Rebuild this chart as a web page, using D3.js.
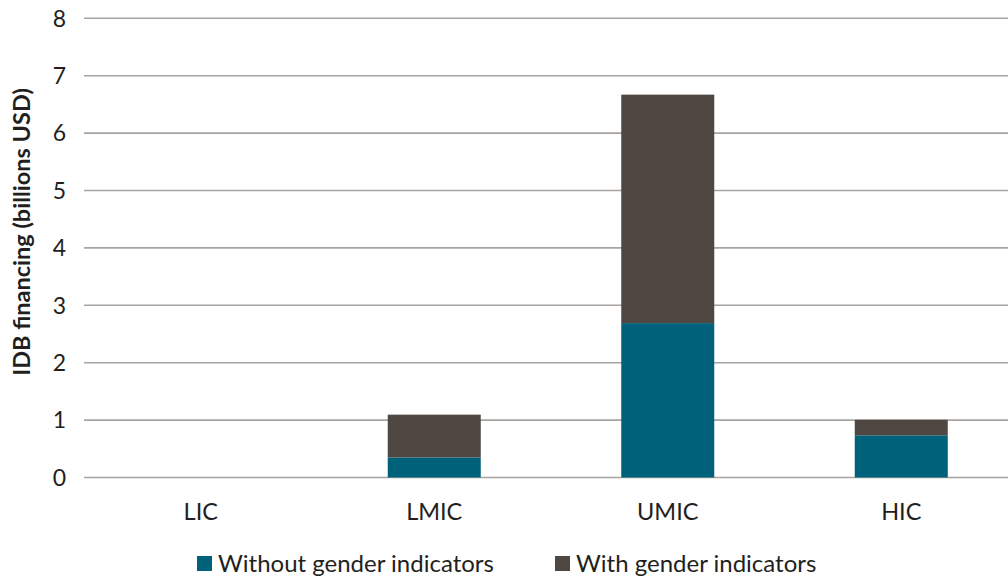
<!DOCTYPE html>
<html><head><meta charset="utf-8">
<script src="https://cdn.jsdelivr.net/npm/d3@7"></script>
<style>body{margin:0;background:#fff;} svg{display:block;font-family:Lato,"Open Sans",sans-serif;}</style>
</head><body>
<svg id="chart" width="1008" height="578"></svg>
<script>
const categories = ["LIC","LMIC","UMIC","HIC"];
const withoutGender = [0, 0.35, 2.69, 0.735];
const withGender = [0, 0.745, 3.98, 0.27];
const yTicks = [0,1,2,3,4,5,6,7,8];
const seriesNames = ["Without gender indicators","With gender indicators"];
const colors = ["#00627a","#4f4741"];

const svg = d3.select("#chart");
const x = d3.scaleBand().domain(categories).range([84, 1018]).paddingInner(0.6).paddingOuter(0.3);
const y = d3.scaleLinear().domain([0,8]).range([477.5, 18.3]);

// gridlines
svg.append("g").selectAll("line").data(yTicks).join("line")
  .attr("x1",84).attr("x2",1008)
  .attr("y1",d=>y(d)).attr("y2",d=>y(d))
  .attr("stroke","#a7a4a1").attr("stroke-width",1.6);

// y labels
svg.append("g").selectAll("text").data(yTicks).join("text")
  .attr("x",66).attr("y",d=>y(d)).attr("dy","0.36em")
  .attr("text-anchor","end").attr("font-size",23).attr("fill","#231f20")
  .text(d=>d);

const data = categories.map((c,i)=>({cat:c, a:withoutGender[i], b:withGender[i]}));
const stack = d3.stack().keys(["a","b"])(data);
const bw = 93;
stack.forEach((layer,li)=>{
  svg.append("g").selectAll("rect").data(layer.filter(d=>d[1]-d[0]>0)).join("rect")
    .attr("x",d=>x(d.data.cat)+x.bandwidth()/2-bw/2)
    .attr("width",bw)
    .attr("y",d=>y(d[1]))
    .attr("height",d=>y(d[0])-y(d[1]))
    .attr("fill",colors[li]);
});

// category labels
svg.append("g").selectAll("text").data(categories).join("text")
  .attr("x",d=>x(d)+x.bandwidth()/2).attr("y",520)
  .attr("text-anchor","middle").attr("font-size",23.5).attr("fill","#231f20")
  .text(d=>d);

// y title
svg.append("text")
  .attr("transform","translate(30,232) rotate(-90)")
  .attr("text-anchor","middle").attr("font-size",23.5).attr("font-weight","bold").attr("fill","#231f20")
  .text("IDB financing (billions USD)");

// legend
const legX = [197, 555];
const lg = svg.append("g").selectAll("g").data(seriesNames).join("g")
  .attr("transform",(d,i)=>`translate(${legX[i]},556)`);
lg.append("rect").attr("width",15).attr("height",15).attr("fill",(d,i)=>colors[i]);
lg.append("text").attr("x",21).attr("y",7.5).attr("dy","0.36em")
  .attr("font-size",24).attr("fill","#231f20").text(d=>d);
</script>
</body></html>
